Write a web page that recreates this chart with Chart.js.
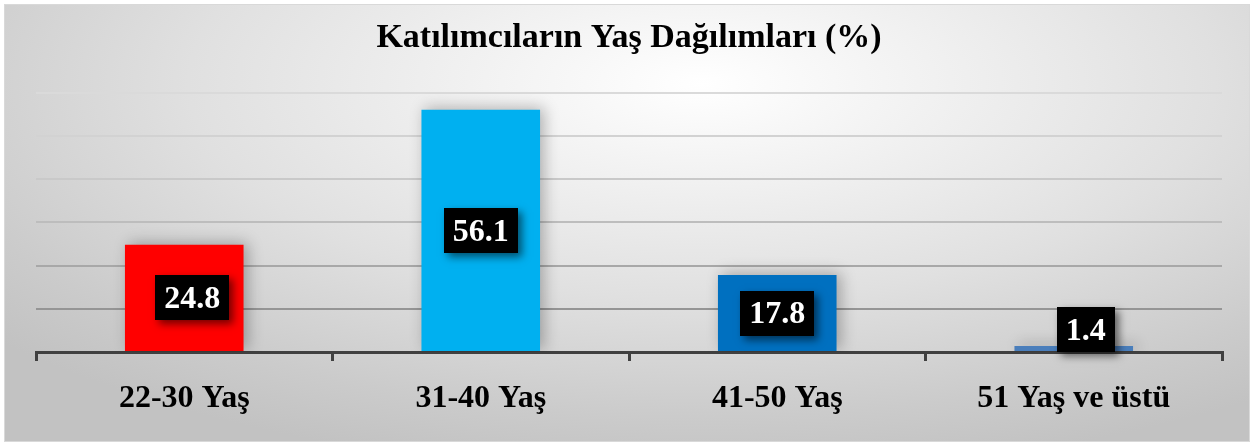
<!DOCTYPE html>
<html>
<head>
<meta charset="utf-8">
<script src="https://cdn.jsdelivr.net/npm/chart.js@4/dist/chart.umd.min.js"></script>
<style>
  html, body { margin: 0; padding: 0; background: #ffffff; }
  #wrap { position: relative; width: 1254px; height: 444px; overflow: hidden; background: #ffffff; }
  #frame { position: absolute; left: 5px; top: 5px; width: 1244px; height: 436px;
    background: radial-gradient(ellipse 75% 90% at 56% 18%, #ffffff 0%, #f1f1f1 25%, #e0e0e0 55%, #cbcbcb 85%, #c2c2c2 100%);
    box-shadow: 0 0 0 1px #d9d9d9; }
  canvas { position: absolute; left: 0; top: 0; }
</style>
</head>
<body>
<div id="wrap">
  <div id="frame"></div>
  <canvas id="c" width="1254" height="444"></canvas>
</div>
<script>
const chartTitle = 'Katılımcıların Yaş Dağılımları (%)';
const categories = ['22-30 Yaş', '31-40 Yaş', '41-50 Yaş', '51 Yaş ve üstü'];
const percentages = [24.8, 56.1, 17.8, 1.4];
const barColors = ['#FF0000', '#00B0F0', '#0070C0', '#4A7EBB'];
const yTicks = [0, 10, 20, 30, 40, 50, 60];

const barShadow = {
  id: 'barShadow',
  beforeDatasetDraw(chart) {
    const ctx = chart.ctx;
    ctx.save();
    ctx.shadowColor = 'rgba(0,0,0,0.28)';
    ctx.shadowBlur = 14;
    ctx.shadowOffsetX = 4;
    ctx.shadowOffsetY = -2;
  },
  afterDatasetDraw(chart) { chart.ctx.restore(); }
};

const boxLabels = {
  id: 'boxLabels',
  afterDatasetsDraw(chart, args, opts) {
    const ctx = chart.ctx;
    const meta = chart.getDatasetMeta(0);
    const shifts = opts.shiftX || [];
    ctx.save();
    ctx.font = 'bold 32px "Liberation Serif", "Times New Roman", serif';
    ctx.textAlign = 'center';
    ctx.textBaseline = 'middle';
    meta.data.forEach((bar, i) => {
      const txt = percentages[i].toFixed(1);
      const w = ctx.measureText(txt).width + 18;
      const h = 45;
      let cx = bar.x + (shifts[i] || 0), cy = (bar.y + bar.base) / 2;
      if (bar.base - bar.y < h) { cy = bar.base + 1 - h / 2; }
      ctx.save();
      ctx.shadowColor = 'rgba(0,0,0,0.55)';
      ctx.shadowBlur = 8;
      ctx.shadowOffsetX = 4;
      ctx.shadowOffsetY = 4;
      ctx.fillStyle = '#000000';
      ctx.fillRect(Math.round(cx - w / 2), Math.round(cy - h / 2), Math.round(w), h);
      ctx.restore();
      ctx.fillStyle = '#ffffff';
      ctx.fillText(txt, cx, cy + 2);
    });
    ctx.restore();
  }
};

const gridShades = ['#3f3f3f', '#959595', '#a8a8a8', '#bdbdbd', '#c9c9c9', '#d2d2d2', '#dadada'];

new Chart(document.getElementById('c'), {
  type: 'bar',
  data: {
    labels: categories,
    datasets: [{
      data: percentages,
      backgroundColor: barColors,
      borderWidth: 0,
      barPercentage: 0.4,
      categoryPercentage: 1.0
    }]
  },
  plugins: [barShadow, boxLabels],
  options: {
    responsive: false,
    animation: false,
    layout: { padding: { left: 36, right: 32, top: 0, bottom: 0 } },
    plugins: {
      legend: { display: false },
      tooltip: { enabled: false },
      boxLabels: { shiftX: [8, 0, 0, 12] },
      title: {
        display: true,
        text: chartTitle,
        color: '#000000',
        font: { family: '"Liberation Serif", "Times New Roman", serif', size: 34, weight: 'bold' },
        padding: { top: 18, bottom: 34 }
      }
    },
    scales: {
      x: {
        offset: true,
        afterFit(scale) { scale.height = 92; },
        grid: { display: true, offset: true, drawOnChartArea: false, drawTicks: true, tickLength: 9, color: '#404040', lineWidth: 3 },
        border: { display: true, color: '#404040', width: 3 },
        ticks: { color: '#000000', padding: 19, font: { family: '"Liberation Serif", "Times New Roman", serif', size: 32, weight: 'bold' } }
      },
      y: {
        min: yTicks[0],
        max: yTicks[yTicks.length - 1],
        afterBuildTicks(scale) { scale.ticks = yTicks.map(v => ({ value: v })); },
        afterFit(scale) { scale.width = 0; },
        ticks: { display: false },
        border: { display: false },
        grid: {
          drawTicks: false,
          lineWidth: 2,
          color: ctx => gridShades[ctx.index] || '#cccccc'
        }
      }
    }
  }
});
</script>
</body>
</html>
